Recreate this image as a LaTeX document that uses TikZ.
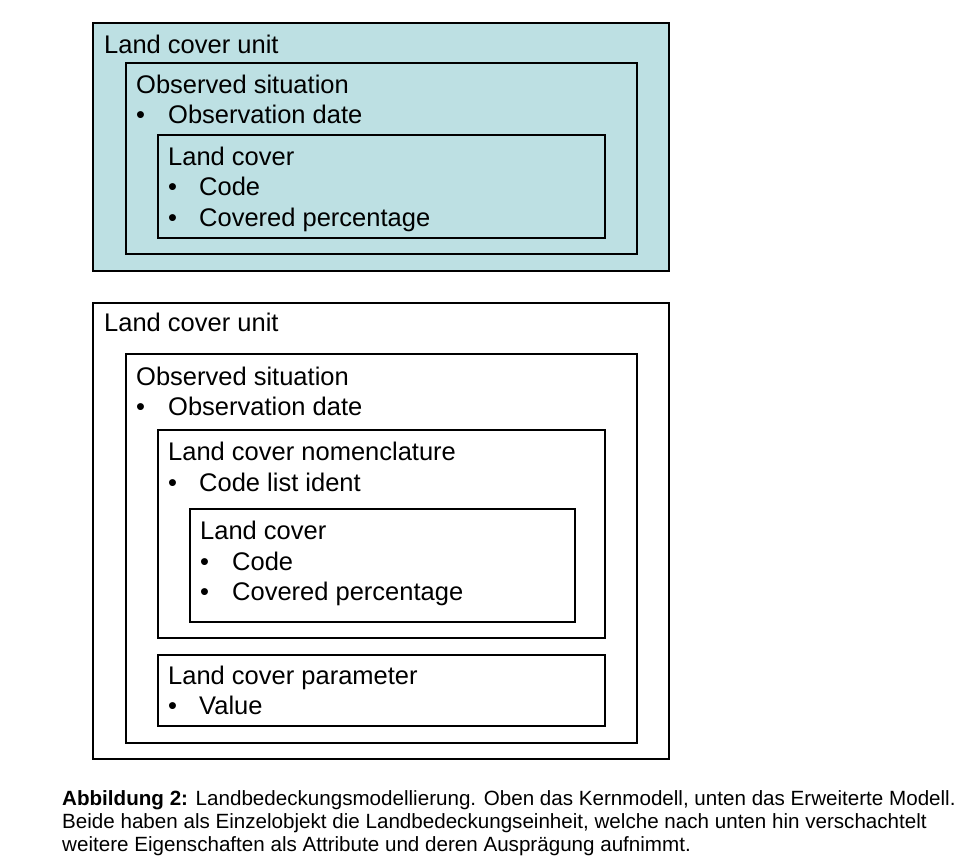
\documentclass[tikz,border=0pt]{standalone}
\usepackage{fontspec}
\setmainfont{Liberation Sans}
\definecolor{corecyan}{RGB}{189,224,227}

\begin{document}
\begin{tikzpicture}[x=1pt, y=-1pt,
  box/.style={draw=black, line width=2.6pt},
  lbl/.style={anchor=base west, inner sep=0pt, font=\fontsize{25.5}{30}\selectfont},
  dot/.style={anchor=base west, inner sep=0pt, font=\fontsize{25.5}{30}\selectfont}]
\useasboundingbox (0,0) rectangle (978,862);
% core model (top)
\draw[box, fill=corecyan] (93,23) rectangle (669,271);
\draw[box] (126,63) rectangle (637,254);
\draw[box] (158,135) rectangle (605,238);
\node[lbl] (unitA) at (104,53) {Land cover unit};
\node[lbl] (obsA) at (136,93) {Observed situation};
\node[dot] (obsdotA) at (136,123) {•};
\node[lbl] (obsdateA) at (168,123) {Observation date};
\node[lbl] (coverA) at (168,165) {Land cover};
\node[dot] (codedotA) at (168,195) {•};
\node[lbl] (codeA) at (199,195) {Code};
\node[dot] (percdotA) at (168,226) {•};
\node[lbl] (percA) at (199,226) {Covered percentage};
% extended model (bottom)
\draw[box] (93,303) rectangle (669,759);
\draw[box] (126,354) rectangle (637,743);
\draw[box] (158,430) rectangle (605,638);
\draw[box] (190,509) rectangle (575,622);
\draw[box] (158,655) rectangle (605,726);
\node[lbl] (unitB) at (104,331) {Land cover unit};
\node[lbl] (obsB) at (136,385) {Observed situation};
\node[dot] (obsdotB) at (136,415) {•};
\node[lbl] (obsdateB) at (168,415) {Observation date};
\node[lbl] (nomenB) at (168,460) {Land cover nomenclature};
\node[dot] (listdotB) at (168,491) {•};
\node[lbl] (listB) at (199,491) {Code list ident};
\node[lbl] (coverB) at (200,539) {Land cover};
\node[dot] (codedotB) at (200,570) {•};
\node[lbl] (codeB) at (232,570) {Code};
\node[dot] (percdotB) at (200,600) {•};
\node[lbl] (percB) at (232,600) {Covered percentage};
\node[lbl] (paramB) at (168,684) {Land cover parameter};
\node[dot] (valdotB) at (168,714) {•};
\node[lbl] (valB) at (199,714) {Value};
% caption
\node[anchor=base west, inner sep=0pt, align=left, font=\fontsize{20.6}{23}\selectfont] (caption) at (62,851)
  {\textbf{Abbildung 2:} Landbedeckungsmodellierung. Oben das Kernmodell, unten das Erweiterte Modell.\\
   Beide haben als Einzelobjekt die Landbedeckungseinheit, welche nach unten hin verschachtelt\\
   weitere Eigenschaften als Attribute und deren Ausprägung aufnimmt.};
\end{tikzpicture}
\end{document}
